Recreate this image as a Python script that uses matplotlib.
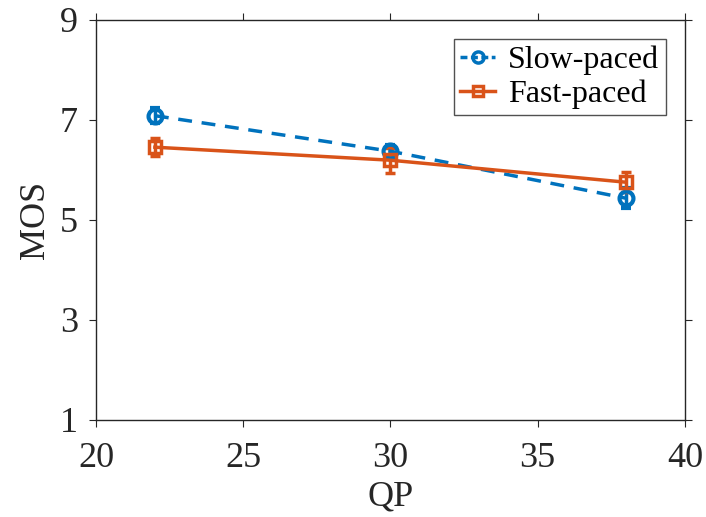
import matplotlib.pyplot as plt
from matplotlib.lines import Line2D

qp = [22, 30, 38]
slow_mos = [7.08, 6.37, 5.43]
slow_err = [0.15, 0.13, 0.2]
fast_mos = [6.45, 6.19, 5.75]
fast_err = [0.18, 0.25, 0.2]

blue = '#0072BD'
orange = '#D95319'

plt.rcParams['font.family'] = ['Liberation Serif', 'DejaVu Serif']

fig = plt.figure(figsize=(7.06, 5.17), dpi=100)
ax = fig.add_axes([0.136, 0.188, 0.834, 0.774])

ax.errorbar(qp, slow_mos, yerr=slow_err, color=blue, ls='--', lw=2.5,
            marker='o', ms=10, mfc='none', mew=3, capsize=3.5, elinewidth=2.5,
            capthick=2.5, dashes=(4, 2.8))
ax.errorbar(qp, fast_mos, yerr=fast_err, color=orange, ls='-', lw=2.5,
            marker='s', ms=8.5, mfc='none', mew=2.5, capsize=3.5, elinewidth=2.5,
            capthick=2.5)

ax.set_xlim(20, 40)
ax.set_ylim(1, 9)
ax.set_xticks([20, 25, 30, 35, 40])
ax.set_yticks([1, 3, 5, 7, 9])
ax.tick_params(direction='out', top=True, right=True, labelsize=26, length=5,
               color='#262626', labelcolor='#262626')
ax.tick_params(axis='x', pad=11)
ax.tick_params(axis='y', pad=8)
for s in ax.spines.values():
    s.set_color('#262626')
    s.set_linewidth(1)
ax.set_xlabel('QP', fontsize=26, labelpad=4, color='#262626')
ax.set_ylabel('MOS', fontsize=26, labelpad=6, color='#262626')

handles = [
    Line2D([], [], color=blue, ls='--', lw=2.5, marker='o', ms=8, mfc='none',
           mew=2.5, dashes=(2, 1)),
    Line2D([], [], color=orange, ls='-', lw=2.5, marker='s', ms=7, mfc='none',
           mew=2.5),
]
leg = ax.legend(handles, ['Slow-paced', 'Fast-paced'], loc='upper right',
                fontsize=23, frameon=True, fancybox=False, edgecolor='#262626',
                borderpad=0.2, handlelength=1.1, handletextpad=0.4,
                labelspacing=0.15, borderaxespad=0.6)
leg.get_frame().set_linewidth(1)

fig.savefig('out.png', dpi=100)
